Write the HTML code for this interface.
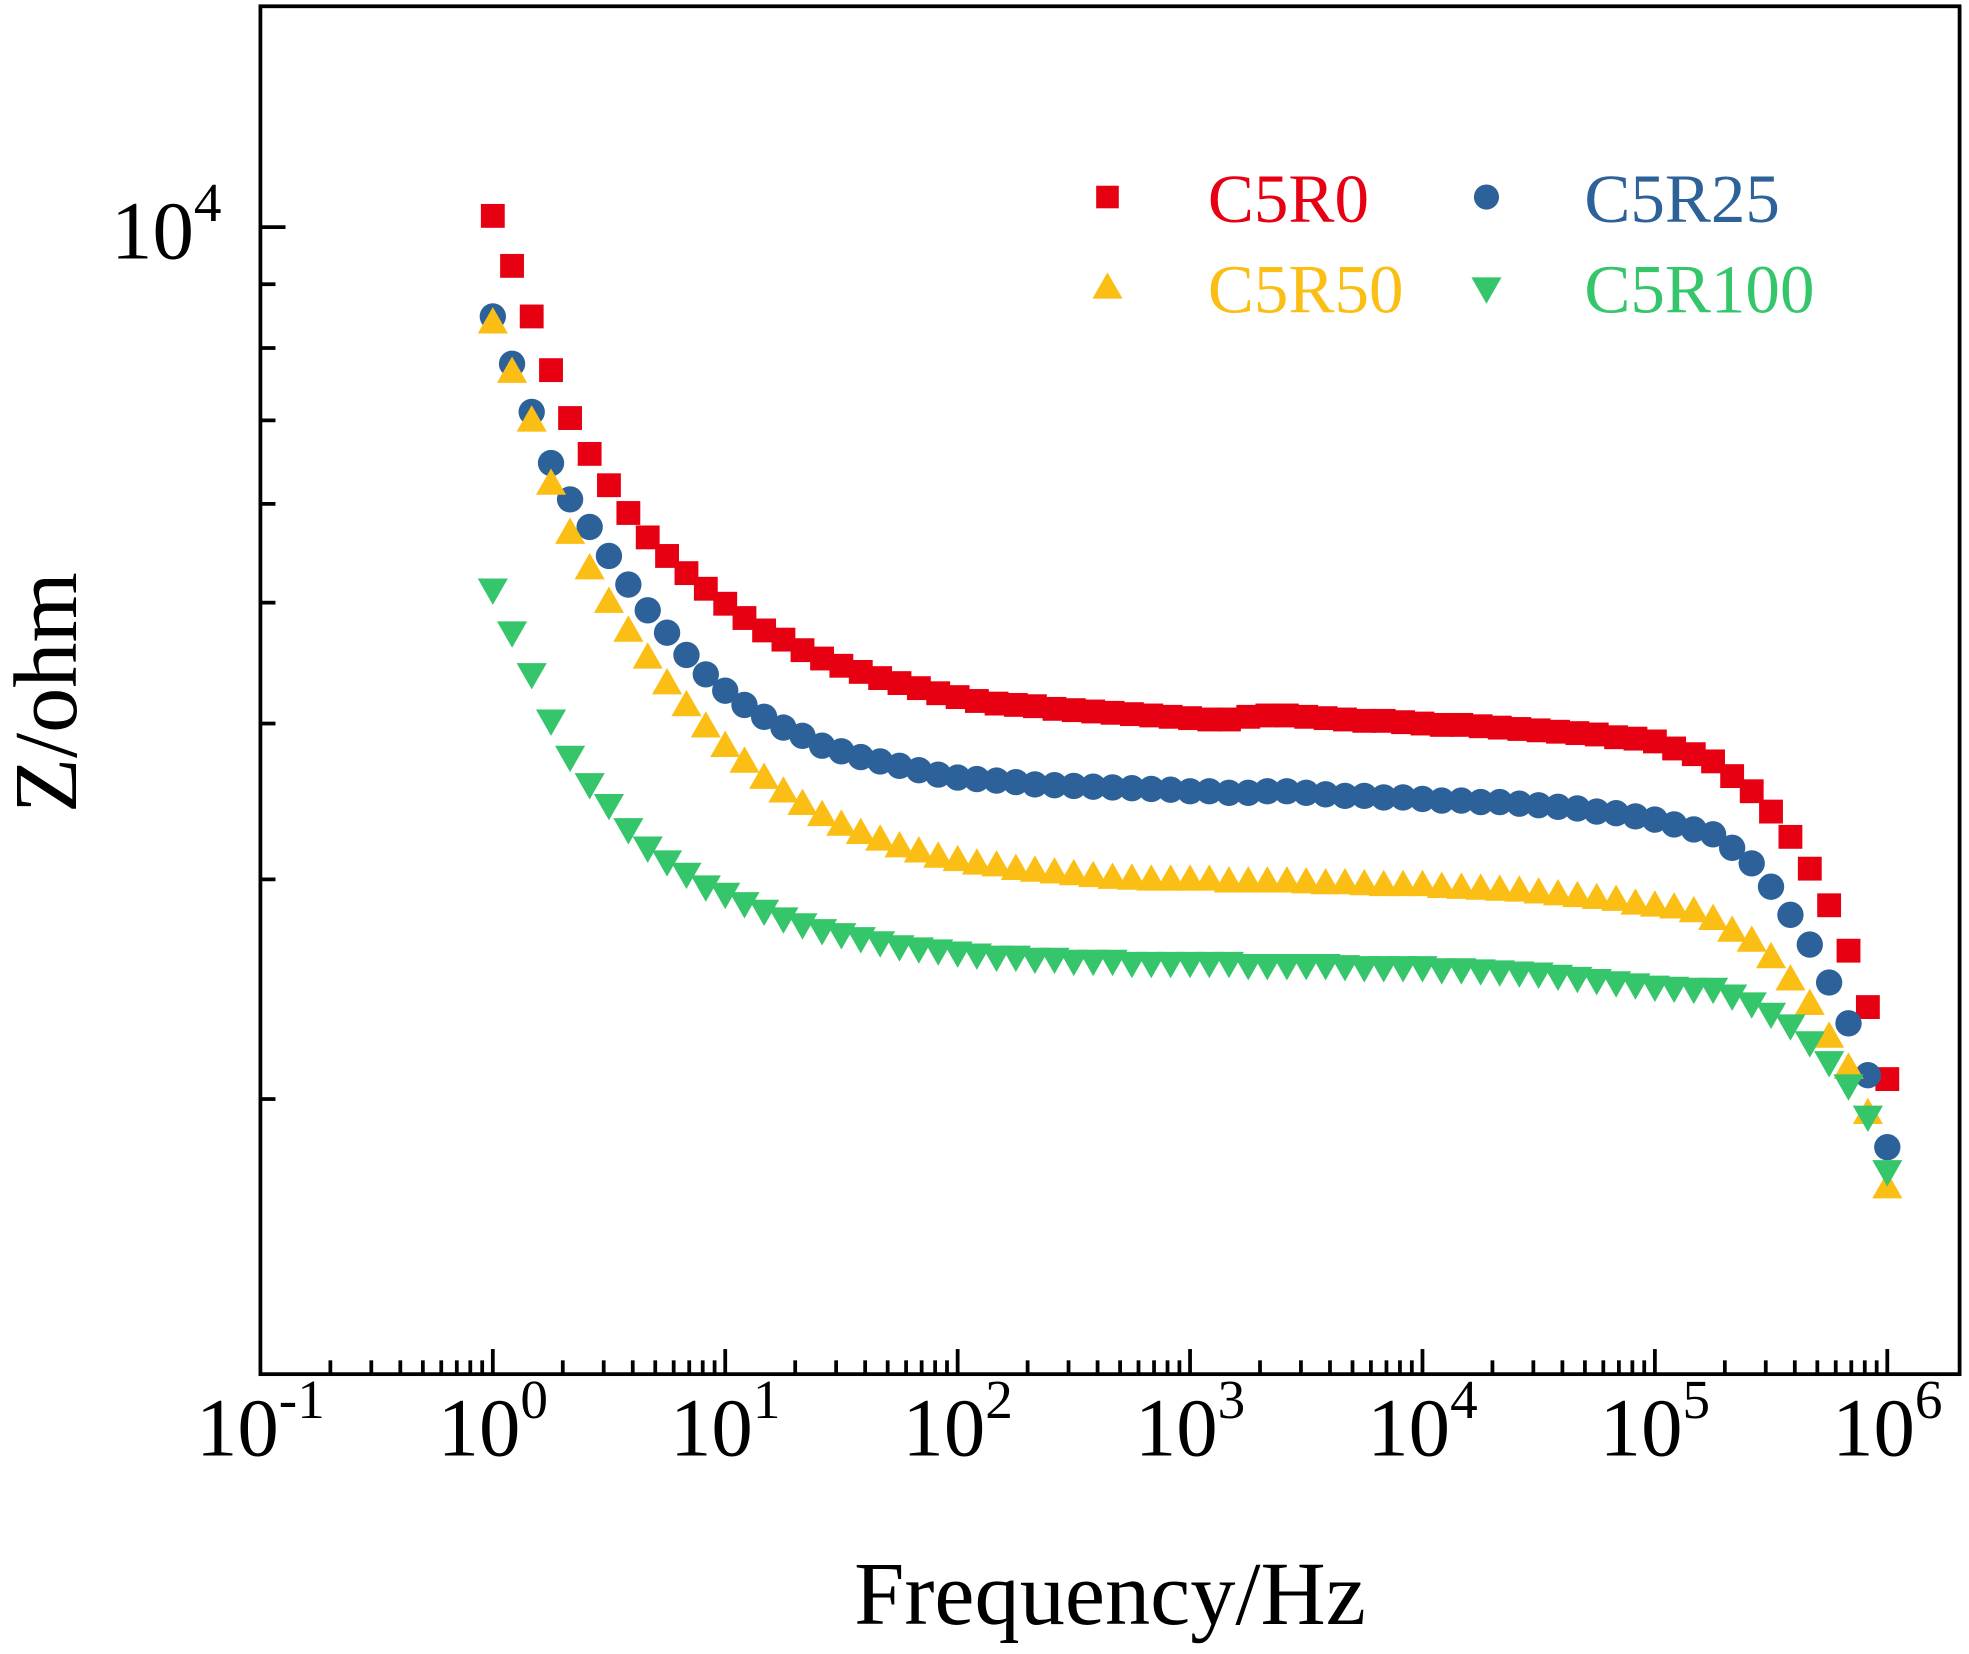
<!DOCTYPE html>
<html><head><meta charset="utf-8"><style>
html,body{margin:0;padding:0;background:#fff;}
svg{display:block;font-family:"Liberation Serif",serif;}
</style></head><body>
<svg id="chart" width="1969" height="1654" viewBox="0 0 1568 1318" xmlns="http://www.w3.org/2000/svg">
<rect x="0" y="0" width="1568" height="1318" fill="#fff"/>
<g id="ticks"></g>
<g id="marks"></g>
<rect x="207" y="5" width="1354" height="1090" fill="none" stroke="#000" stroke-width="3"/>
<g id="xlabels" font-size="66" text-anchor="middle"></g>
<text x="88" y="206" font-size="66">10<tspan font-size="44" dy="-30">4</tspan></text>
<text x="884" y="1294" font-size="72" text-anchor="middle">Frequency/Hz</text>
<text transform="translate(60,552) rotate(-90)" font-size="72" text-anchor="middle">Z/ohm</text>
<g font-size="55">
<rect x="873" y="148" width="18" height="18" fill="#e60012"/>
<text x="962" y="177" fill="#e60012">C5R0</text>
<circle cx="1184" cy="157" r="10" fill="#2d6199"/>
<text x="1262" y="177" fill="#2d6199">C5R25</text>
<polygon points="882,217 894,238 870,238" fill="#fbbe14"/>
<text x="962" y="249" fill="#fbbe14">C5R50</text>
<polygon points="1172,221 1196,221 1184,242" fill="#35c56a"/>
<text x="1262" y="249" fill="#35c56a">C5R100</text>
</g>
</svg>
<script>
const freqs = [1,1.21,1.47,1.78,2.15,2.61,3.16,3.83,4.64,5.62,6.81,8.25,
10,12.1,14.7,17.8,21.5,26.1,31.6,38.3,46.4,56.2,68.1,82.5,
100,121,147,178,215,261,316,383,464,562,681,825,
1000,1210,1470,1780,2150,2610,3160,3830,4640,5620,6810,8250,
10000,12100,14700,17800,21500,26100,31600,38300,46400,56200,68100,82500,
100000,121000,147000,178000,215000,261000,316000,383000,464000,562000,681000,825000,1000000];
const c5r0 = [10210,9310,8480,7680,7030,6580,6210,5900,5640,5450,5280,5130,
4990,4860,4750,4670,4580,4510,4450,4400,4350,4310,4270,4230,
4200,4170,4150,4140,4130,4110,4100,4090,4080,4070,4060,4050,
4040,4030,4030,4050,4060,4060,4050,4040,4030,4020,4020,4010,
4000,3990,3990,3980,3970,3960,3950,3940,3930,3920,3900,3890,
3870,3820,3780,3730,3630,3530,3400,3245,3060,2860,2630,2370,2075];
const c5r25 = [8480,7770,7110,6470,6050,5750,5450,5170,4930,4730,4540,4380,
4250,4140,4050,3970,3910,3840,3800,3760,3730,3700,3670,3640,
3620,3610,3600,3590,3575,3570,3565,3560,3555,3550,3545,3540,
3530,3530,3520,3520,3530,3530,3520,3510,3500,3500,3490,3490,
3480,3470,3470,3460,3460,3450,3440,3430,3420,3400,3390,3370,
3350,3320,3290,3260,3180,3090,2960,2810,2660,2480,2300,2090,1830];
const c5r50 = [8390,7660,7000,6230,5690,5330,5010,4750,4520,4310,4140,3980,
3840,3730,3620,3530,3450,3380,3320,3270,3230,3190,3160,3130,
3110,3090,3080,3060,3050,3040,3030,3020,3010,3005,3000,3000,
3000,3000,2990,2990,2990,2990,2985,2980,2980,2975,2970,2970,
2970,2960,2955,2950,2945,2940,2930,2920,2910,2900,2890,2870,
2860,2850,2830,2790,2730,2680,2600,2495,2385,2245,2120,1950,1700];
const c5r100 = [5120,4730,4380,4020,3760,3575,3440,3290,3180,3100,3030,2960,
2920,2870,2830,2790,2760,2730,2710,2690,2670,2650,2640,2630,
2620,2610,2600,2600,2590,2590,2580,2580,2580,2570,2570,2570,
2570,2570,2570,2560,2560,2560,2560,2560,2555,2550,2550,2550,
2550,2540,2540,2535,2530,2525,2520,2510,2500,2490,2480,2470,
2460,2455,2450,2450,2420,2385,2340,2290,2220,2140,2050,1935,1750];
const xTickExps = [-1,0,1,2,3,4,5,6];
const yMinorVals = [2000,3000,4000,5000,6000,7000,8000,9000];

const NS='http://www.w3.org/2000/svg';
function xs(f){return 207+(Math.log10(f)+1)*185.2;}
function ys(v){return 181+(4-Math.log10(v))*994;}
function mk(tag,attrs,parent){const e=document.createElementNS(NS,tag);for(const k in attrs)e.setAttribute(k,attrs[k]);parent.appendChild(e);return e;}

const tg=document.getElementById('ticks');
xTickExps.forEach(e=>{
  const x=xs(Math.pow(10,e));
  if(e>-1){const t=mk('line',{x1:x,x2:x,y1:1095,y2:1075,stroke:'#000','stroke-width':3},tg);
  
  }
  if(e<6){for(let m=2;m<=9;m++){const xm=xs(m*Math.pow(10,e));
    const t=mk('line',{x1:xm,x2:xm,y1:1095,y2:1084,stroke:'#000','stroke-width':3},tg);
    
    }}
  const lab=mk('text',{x:x,y:1160},document.getElementById('xlabels'));
  
  
  lab.textContent='10';
  const sp=mk('tspan',{'font-size':44,dy:-30},lab);sp.textContent=String(e);
});
const t4=mk('line',{x1:207,x2:227,y1:ys(10000),y2:ys(10000),stroke:'#000','stroke-width':3},tg);


yMinorVals.forEach(v=>{const y=ys(v);
  const t=mk('line',{x1:207,x2:219,y1:y,y2:y,stroke:'#000','stroke-width':3},tg);
  
  });

const mg=document.getElementById('marks');
function series(vals,color,shape,name){
  const g=mk('g',{fill:color},mg);
  
  
  vals.forEach((v,i)=>{const x=xs(freqs[i]),y=ys(v);let el;
    if(shape==='sq')el=mk('rect',{x:x-9.5,y:y-9.5,width:19,height:19},g);
    else if(shape==='ci')el=mk('circle',{cx:x,cy:y,r:10.5},g);
    else if(shape==='up')el=mk('polygon',{points:`${x},${y-12} ${x+12},${y+9} ${x-12},${y+9}`},g);
    else el=mk('polygon',{points:`${x-12},${y-9} ${x+12},${y-9} ${x},${y+12}`},g);
    
    });
}
series(c5r0,'#e60012','sq','series-c5r0');
series(c5r25,'#2d6199','ci','series-c5r25');
series(c5r50,'#fbbe14','up','series-c5r50');
series(c5r100,'#35c56a','dn','series-c5r100');
</script>
</body></html>
